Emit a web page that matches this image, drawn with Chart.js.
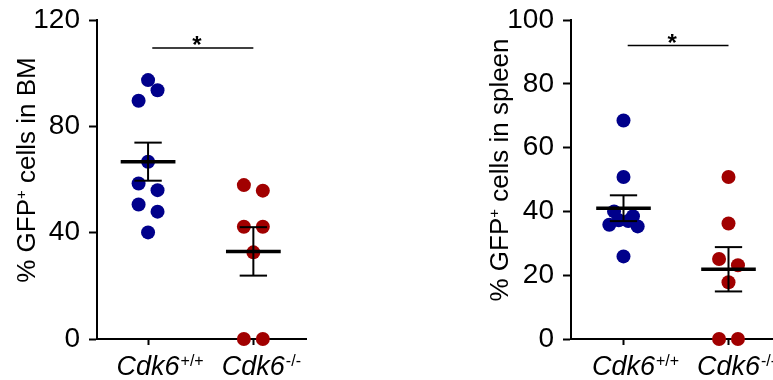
<!DOCTYPE html>
<html>
<head>
<meta charset="utf-8">
<script src="https://cdn.jsdelivr.net/npm/chart.js@4.4.1/dist/chart.umd.min.js"></script>
<style>
  html, body { margin: 0; padding: 0; background: #fff; overflow: hidden; }
  #wrap { position: relative; width: 773px; height: 380px; overflow: hidden; }
  canvas { position: absolute; top: 0; }
</style>
</head>
<body>
<div id="wrap">
  <canvas id="bm" width="386" height="380" style="left:0"></canvas>
  <canvas id="spleen" width="400" height="380" style="left:400px"></canvas>
</div>
<script>
// % GFP+ cells
var groups = ["Cdk6", "Cdk6"];
var groupSup = ["+/+", "-/-"];
var bmWT = [97.4, 93.6, 89.6, 66.7, 58.5, 56.0, 50.6, 47.9, 40.1];
var bmKO = [57.9, 55.8, 42.2, 42.2, 32.6, 0, 0];
var spleenWT = [68.5, 50.8, 40.0, 38.5, 37.2, 37.0, 35.8, 35.3, 25.9];
var spleenKO = [50.8, 36.2, 25.1, 23.1, 17.8, 0, 0];
var bmTicks = [0, 40, 80, 120];
var spleenTicks = [0, 20, 40, 60, 80, 100];

var FONT = '"Liberation Sans", Arial, sans-serif';
var colors = ['#00008b', '#a10000'];

function mean(a) { return a.reduce(function (s, v) { return s + v; }, 0) / a.length; }
function sem(a) {
  var m = mean(a);
  var ss = a.reduce(function (s, v) { return s + (v - m) * (v - m); }, 0);
  return Math.sqrt(ss / (a.length - 1)) / Math.sqrt(a.length);
}

// spread points that would overlap sideways, prism style
function swarm(vals, cx, yRange) {
  var gap = yRange * 0.041; // ~ one dot height
  var step = 0.09;
  var odd = [0, 1, -1, -0.5, 0.5, -1.5, 1.5];
  var even = [-1, 1, -0.5, 0.5, -1.5, 1.5];
  var sorted = vals.slice().sort(function (a, b) { return b - a; });
  var out = [], i = 0;
  while (i < sorted.length) {
    var j = i + 1;
    while (j < sorted.length && sorted[j - 1] - sorted[j] < gap) j++;
    var pat = (j - i) % 2 ? odd : even;
    for (var k = 0; k < j - i; k++) out.push({ x: cx + pat[k % pat.length] * step, y: sorted[i + k] });
    i = j;
  }
  return out;
}

function seg(x1, y1, x2, y2, w) {
  return { type: 'line', data: [{ x: x1, y: y1 }, { x: x2, y: y2 }], borderColor: '#000',
    borderWidth: w, pointRadius: 0, tension: 0, clip: false, order: 0 };
}

var textPlugin = {
  id: 'texts',
  afterDraw: function (chart) {
    var o = chart.options.plugins.texts;
    var ctx = chart.ctx, xs = chart.scales.x, ys = chart.scales.y;
    ctx.save();
    ctx.fillStyle = '#000';
    ctx.textBaseline = 'alphabetic';
    ctx.textAlign = 'left';
    // category labels with superscript genotype
    groups.forEach(function (g, i) {
      var px = xs.getPixelForValue(i + 1);
      ctx.font = 'italic 27px ' + FONT;
      var w = ctx.measureText(g).width;
      var base = chart.chartArea.bottom + 36;
      ctx.fillText(g, px - w / 2, base);
      ctx.font = '16px ' + FONT;
      ctx.fillText(groupSup[i], px + w / 2 + 1, base - 9);
    });
    // y title
    ctx.translate(o.titleX, 170);
    ctx.rotate(-Math.PI / 2);
    ctx.font = '26px ' + FONT;
    var a = '% GFP', c = o.titleRest;
    var wa = ctx.measureText(a).width, wc = ctx.measureText(c).width;
    ctx.font = '15px ' + FONT;
    var wb = ctx.measureText('+').width;
    var x0 = -(wa + wb + wc) / 2;
    ctx.font = '26px ' + FONT;
    ctx.fillText(a, x0, 0);
    ctx.fillText(c, x0 + wa + wb, 0);
    ctx.font = '15px ' + FONT;
    ctx.fillText('+', x0 + wa, -9);
    ctx.setTransform(1, 0, 0, 1, 0, 0);
    // significance star
    ctx.font = 'bold 24px ' + FONT;
    ctx.textAlign = 'center';
    var sx = (xs.getPixelForValue(o.sigFrom) + xs.getPixelForValue(o.sigTo)) / 2 - 6;
    ctx.fillText('*', sx, ys.getPixelForValue(o.sigY) + 5);
    ctx.restore();
  }
};

function makeChart(id, wt, ko, ticks, opts) {
  var yMax = ticks[ticks.length - 1];
  var ds = [];
  [wt, ko].forEach(function (vals, i) {
    var cx = i + 1, m = mean(vals), e = sem(vals);
    ds.push(seg(cx - 0.26, m, cx + 0.26, m, 3.5));
    ds.push(seg(cx, m - e, cx, m + e, 2));
    ds.push(seg(cx - 0.13, m + e, cx + 0.13, m + e, 2));
    ds.push(seg(cx - 0.13, m - e, cx + 0.13, m - e, 2));
    ds.push({ type: 'scatter', data: swarm(vals, cx, yMax), backgroundColor: colors[i],
      borderWidth: 0, pointRadius: 7, clip: false, order: 1 });
  });
  ds.push(seg(opts.sigFrom, opts.sigY, opts.sigTo, opts.sigY, 1.5));

  return new Chart(document.getElementById(id), {
    type: 'scatter',
    data: { datasets: ds },
    plugins: [textPlugin],
    options: {
      responsive: false,
      animation: false,
      layout: { padding: { top: 20, right: opts.padRight, bottom: 0, left: 0 } },
      plugins: {
        legend: { display: false },
        tooltip: { enabled: false },
        texts: opts
      },
      scales: {
        x: {
          type: 'linear', min: opts.xMin, max: 2.5,
          afterBuildTicks: function (ax) { ax.ticks = [{ value: 1 }, { value: 2 }]; },
          afterFit: function (ax) { ax.height = 41; ax.paddingLeft = 0; ax.paddingRight = 0; },
          ticks: { display: false },
          grid: { drawOnChartArea: false, tickLength: 6, tickColor: '#000', tickWidth: 2 },
          border: { color: '#000', width: 2 }
        },
        y: {
          min: ticks[0], max: yMax,
          afterBuildTicks: function (ax) { ax.ticks = ticks.map(function (v) { return { value: v }; }); },
          afterFit: function (ax) { ax.width = opts.axisLeft; ax.paddingTop = 0; ax.paddingBottom = 0; },
          ticks: { color: '#000', padding: 9, font: { family: FONT, size: 28 } },
          grid: { drawOnChartArea: false, tickLength: 8, tickColor: '#000', tickWidth: 2 },
          border: { color: '#000', width: 2 }
        }
      }
    }
  });
}

makeChart('bm', bmWT, bmKO, bmTicks, {
  axisLeft: 97, padRight: 80, xMin: 0.515, titleX: 35, titleRest: ' cells in BM',
  sigFrom: 1.04, sigTo: 2.0, sigY: 109.5
});
makeChart('spleen', spleenWT, spleenKO, spleenTicks, {
  axisLeft: 171, padRight: 19, xMin: 0.5, titleX: 108, titleRest: ' cells in spleen',
  sigFrom: 1.04, sigTo: 2.0, sigY: 92
});
</script>
</body>
</html>
